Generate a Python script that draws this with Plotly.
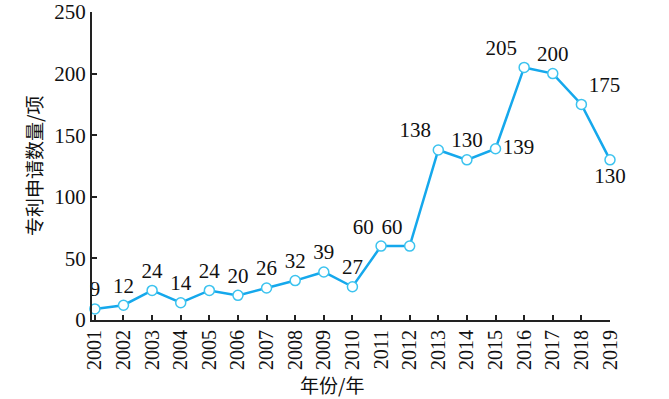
import plotly.graph_objects as go

years = list(range(2001, 2020))
counts = [9, 12, 24, 14, 24, 20, 26, 32, 39, 27, 60, 60, 138, 130, 139, 205, 200, 175, 130]
label_pos = ["top center", "top center", "top center", "top center", "top center",
             "top center", "top center", "top center", "top center", "top center",
             "top left", "top left", "top left", "top center", "middle right",
             "top left", "top center", "top right", "bottom center"]
y_ticks = [0, 50, 100, 150, 200, 250]
x_title = "年份/年"
y_title = "专利申请数量/项"

serif = "Liberation Serif"
cjk = "Noto Sans CJK SC"

fig = go.Figure()
fig.add_trace(go.Scatter(
    x=years, y=counts,
    mode="lines+markers+text",
    text=[str(v) for v in counts],
    textposition=label_pos,
    textfont=dict(family=serif, size=21, color="#111111"),
    line=dict(color="#15a8ec", width=2.5),
    marker=dict(size=10, color="white", line=dict(color="#3cc3ef", width=1.5)),
    cliponaxis=False,
    showlegend=False,
))

fig.update_layout(
    width=669, height=399,
    margin=dict(l=92, r=59, t=12, b=79, autoexpand=False),
    plot_bgcolor="white", paper_bgcolor="white",
    font=dict(family=serif, size=20, color="#111111"),
    annotations=[
        dict(text=x_title, xref="paper", yref="paper", x=0.463, y=-0.211,
             xanchor="center", yanchor="middle", showarrow=False,
             font=dict(family=cjk, size=19, color="#111111")),
        dict(text=y_title, xref="paper", yref="paper", x=-0.114, y=0.5,
             xanchor="center", yanchor="middle", showarrow=False, textangle=-90,
             font=dict(family=cjk, size=19, color="#111111")),
    ],
)
fig.update_xaxes(
    range=[2000.9, 2019], tickmode="array", tickvals=years,
    ticktext=[str(y) for y in years], tickangle=-90,
    ticks="inside", ticklen=5, tickwidth=1.5, tickcolor="#222222",
    showline=True, linecolor="#222222", linewidth=2,
    showgrid=False, zeroline=False, automargin=False,
    tickfont=dict(family=serif, size=20),
)
fig.update_yaxes(
    range=[0, 250], tickmode="array", tickvals=y_ticks,
    ticks="inside", ticklen=5, tickwidth=1.5, tickcolor="#222222",
    showline=True, linecolor="#222222", linewidth=2,
    showgrid=False, zeroline=False, automargin=False,
    tickfont=dict(family=serif, size=21),
)

fig.write_html(
    "out.html",
    config={"displayModeBar": False},
    post_script="document.body.style.margin='0';document.body.style.overflow='hidden';",
)
